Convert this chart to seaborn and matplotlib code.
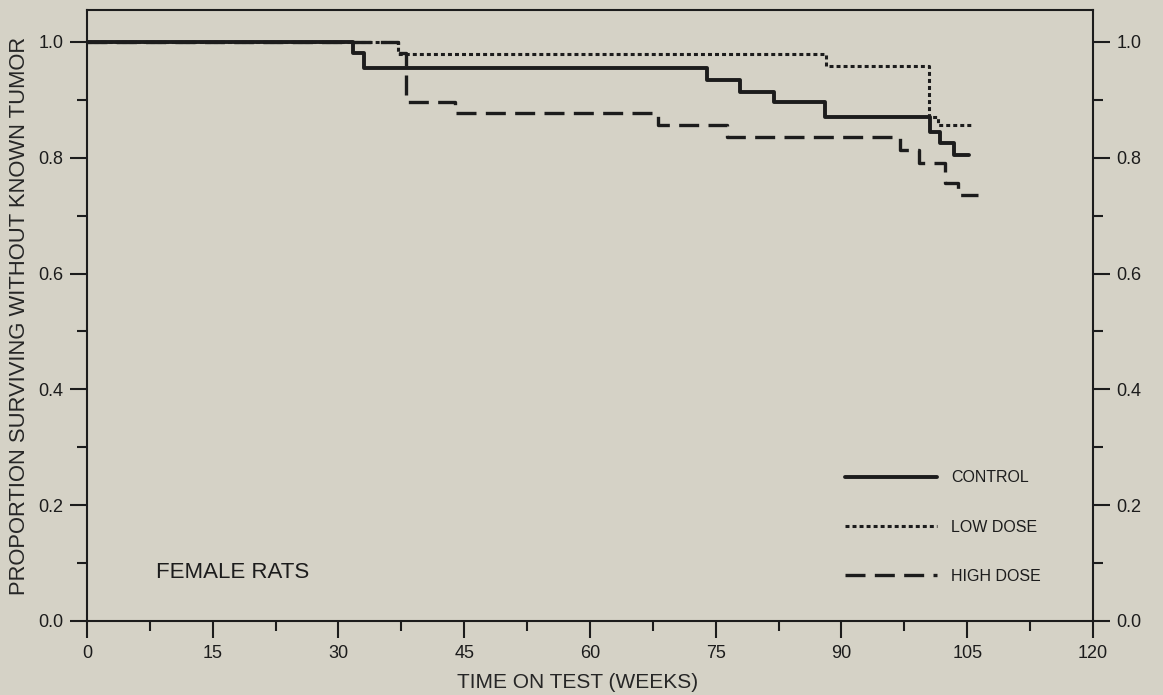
import numpy as np
import pandas as pd
import matplotlib
matplotlib.use("Agg")
import matplotlib.pyplot as plt
import seaborn as sns
from matplotlib.ticker import MultipleLocator

# ---- data ----
control_t = [0, 31.7, 33.0, 74.0, 77.9, 81.9, 88.0, 100.6, 101.8, 103.4]
control_p = [1.0, 0.980, 0.955, 0.935, 0.914, 0.896, 0.871, 0.845, 0.825, 0.805]
control_end = 105.2

low_t = [0, 37.1, 88.2, 100.4, 101.5]
low_p = [1.0, 0.979, 0.958, 0.870, 0.857]
low_end = 105.7

high_t = [0, 37.1, 38.0, 43.9, 68.1, 76.3, 97.0, 99.3, 102.4, 103.9]
high_p = [1.0, 0.980, 0.897, 0.877, 0.857, 0.836, 0.813, 0.790, 0.756, 0.735]
high_end = 106.3

groups = ["CONTROL", "LOW DOSE", "HIGH DOSE"]
x_ticks = [0, 15, 30, 45, 60, 75, 90, 105, 120]
y_ticks = [0.0, 0.2, 0.4, 0.6, 0.8, 1.0]


def frame(name, t, p, end):
    tt = list(t) + [end]
    pp = list(p) + [p[-1]]
    return pd.DataFrame({"group": name, "week": tt, "prop": pp})


df = pd.concat([
    frame("CONTROL", control_t, control_p, control_end),
    frame("LOW DOSE", low_t, low_p, low_end),
    frame("HIGH DOSE", high_t, high_p, high_end),
], ignore_index=True)

bg = "#d5d2c6"
ink = "#1c1c1c"

sns.set_theme(style="ticks")
plt.rcParams["font.family"] = ["Liberation Sans", "DejaVu Sans"]
plt.rcParams["axes.edgecolor"] = ink
plt.rcParams["xtick.color"] = ink
plt.rcParams["ytick.color"] = ink
plt.rcParams["text.color"] = ink

fig = plt.figure(figsize=(11.63, 6.95), dpi=100, facecolor=bg)
ax = fig.add_axes([0.0748, 0.1065, 0.8650, 0.8791])
ax.set_facecolor(bg)

styles = {
    "CONTROL": dict(lw=2.8, dashes=None),
    "LOW DOSE": dict(lw=2.2, dashes=(1.3, 1.0)),
    "HIGH DOSE": dict(lw=2.4, dashes=(6.0, 2.8)),
}

for g in groups:
    sub = df[df["group"] == g]
    st = styles[g]
    kw = {}
    if st["dashes"] is not None:
        kw["dashes"] = st["dashes"]
    sns.lineplot(data=sub, x="week", y="prop", ax=ax, color=ink,
                 linewidth=st["lw"], drawstyle="steps-post",
                 estimator=None, sort=False, label=g, **kw)

ax.set_xlim(0, 120)
ax.set_ylim(0, 1.055)
ax.xaxis.set_major_locator(plt.FixedLocator(x_ticks))
ax.yaxis.set_major_locator(plt.FixedLocator(y_ticks))
ax.xaxis.set_minor_locator(MultipleLocator(7.5))
ax.yaxis.set_minor_locator(MultipleLocator(0.1))
ax.set_yticklabels([f"{v:.1f}" for v in y_ticks])
ax.set_xticklabels([str(v) for v in x_ticks])

for s in ax.spines.values():
    s.set_linewidth(1.5)
    s.set_color(ink)

ax.tick_params(axis="both", which="major", direction="out", length=12,
               width=1.5, labelsize=13, pad=5)
ax.tick_params(axis="both", which="minor", direction="out", length=7.5,
               width=1.5)
ax.tick_params(axis="y", which="both", left=True, right=True,
               labelleft=True, labelright=True)

ax.set_xlabel("TIME ON TEST (WEEKS)", fontsize=15, va="center")
ax.xaxis.set_label_coords(0.488, -0.1015)
ax.set_ylabel("PROPORTION SURVIVING WITHOUT KNOWN TUMOR", fontsize=15.8,
              labelpad=6)

ax.text(8.2, 0.083, "FEMALE RATS", fontsize=16, va="center", ha="left")

leg = ax.legend(loc="upper left", bbox_to_anchor=(0.7535, 0.2465),
                frameon=False, fontsize=11.5, handlelength=5.75,
                handletextpad=0.875, labelspacing=2.14, borderpad=0,
                borderaxespad=0)

fig.savefig("out.png", dpi=100, facecolor=bg)
